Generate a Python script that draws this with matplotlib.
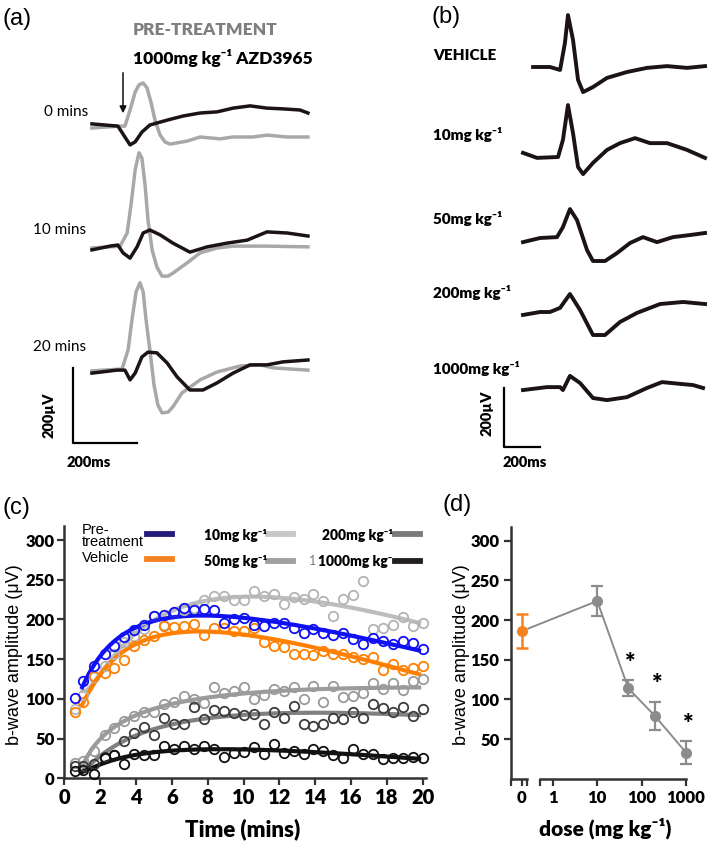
import numpy as np
import matplotlib.pyplot as plt
from matplotlib.lines import Line2D
from matplotlib.patches import ConnectionPatch

# ---------------- data ----------------
# (a) ERG traces, time in ms after flash, amplitude in uV
a0_grey_t = [-97, -9, 6, 22, 38, 50, 63, 75, 88, 100, 116, 131, 147, 200, 241, 303, 344, 406, 450, 513, 578]
a0_grey_v = [-8, -3, -3, 40, 88, 107, 112, 99, 59, 13, -27, -45, -51, -43, -32, -37, -32, -32, -27, -32, -32]
a0_black_t = [-97, -16, 6, 22, 38, 59, 84, 138, 188, 241, 294, 344, 397, 450, 500, 553, 578]
a0_black_v = [3, -3, -32, -53, -45, -19, 0, 13, 24, 32, 35, 45, 51, 45, 43, 40, 32]
a1_grey_t = [-97, -9, 13, 25, 38, 50, 59, 69, 78, 91, 106, 122, 141, 156, 200, 241, 294, 344, 450, 578]
a1_grey_v = [0, 5, 40, 115, 208, 254, 240, 168, 75, -5, -51, -75, -75, -67, -40, -13, 0, 5, 5, 3]
a1_black_t = [-97, -41, -16, 0, 22, 44, 63, 84, 116, 156, 209, 263, 325, 388, 450, 513, 578]
a1_black_v = [-5, 5, 8, -13, -27, 3, 40, 48, 35, 13, -11, 3, 13, 21, 43, 40, 32]
a2_grey_t = [-97, -3, 16, 28, 41, 53, 63, 72, 84, 97, 109, 122, 141, 156, 184, 241, 294, 366, 428, 469, 578]
a2_grey_v = [3, 8, 59, 139, 214, 238, 214, 139, 59, -35, -88, -109, -107, -93, -56, -21, 0, 16, 19, 11, 5]
a2_black_t = [-97, -19, 6, 22, 38, 59, 78, 106, 138, 169, 209, 250, 294, 344, 397, 450, 500, 578]
a2_black_v = [-3, 5, 5, -21, -3, 40, 53, 51, 24, -13, -48, -48, -29, -3, 19, 19, 27, 32]
a_rows = ['0 mins', '10 mins', '20 mins']

# (b) traces per dose
b_labels = ['VEHICLE', '10mg kg⁻¹', '50mg kg⁻¹', '200mg kg⁻¹', '1000mg kg⁻¹']
b_veh_t = [-133, -39, 17, 44, 61, 89, 117, 145, 200, 278, 389, 500, 612, 723, 823]
b_veh_v = [0, 0, -10, 81, 176, 92, -44, -85, -68, -37, -17, -3, 3, -3, 3]
b_10_t = [-189, -111, 6, 33, 61, 89, 117, 145, 200, 278, 350, 434, 517, 612, 723, 823]
b_10_v = [14, -3, 0, 58, 176, 81, -34, -58, -20, 24, 47, 64, 47, 47, 24, -3]
b_50_t = [-189, -94, 0, 33, 72, 111, 167, 200, 267, 334, 406, 478, 556, 645, 739, 823]
b_50_v = [-14, 0, 3, 37, 98, 61, -41, -78, -78, -51, -17, 3, -14, 3, 10, 17]
b_200_t = [-189, -94, -39, 17, 72, 128, 200, 267, 350, 445, 573, 701, 823]
b_200_v = [-10, 0, 0, 14, 61, 7, -78, -78, -34, -3, 27, 34, 27]
b_1000_t = [-189, -56, 17, 33, 72, 128, 200, 278, 389, 500, 584, 684, 756, 812]
b_1000_v = [-7, 3, 3, -7, 41, 17, -34, -41, -31, 0, 20, 14, 10, 0]

# (c) b-wave amplitude over time
time_min = [0.58, 1.06, 1.67, 2.25, 2.8, 3.33, 3.9, 4.45, 5.0, 5.56, 6.12, 6.68, 7.26, 7.8, 8.35, 8.9, 9.47, 10.0,
            10.57, 11.13, 11.68, 12.24, 12.8, 13.36, 13.9, 14.46, 15.0, 15.57, 16.13, 16.69, 17.23, 17.79, 18.33,
            18.88, 19.44, 20.0]
pre_treat = [101, 122, 141, 156, 166, 178, 187, 193, 204, 206, 210, 214, 212, 213, 212, 196, 201, 202, 193, 192, 196,
             196, 189, 183, 188, 183, 180, 183, 175, 169, 177, 173, 169, 173, 171, 163]
vehicle = [83, 96, 129, 132, 139, 149, 167, 174, 179, 192, 191, 192, 194, 180, 189, 189, 185, 186, 189, 172, 167, 165,
           157, 156, 155, 160, 157, 156, 153, 150, 153, 136, 144, 136, 139, 142]
dose10 = [87, 105, 128, 141, 157, 172, 179, 188, 204, 193, 210, 212, 215, 225, 229, 230, 224, 224, 236, 230, 232, 220,
          228, 226, 232, 223, 205, 226, 231, 248, 188, 189, 193, 203, 192, 196]
dose50 = [19, 22, 34, 55, 63, 72, 79, 83, 83, 93, 96, 104, 100, 95, 115, 108, 110, 115, 100, 105, 113, 110, 115, 100,
          116, 96, 116, 102, 104, 108, 120, 113, 120, 111, 123, 125]
dose200 = [15, 15, 18, 27, 29, 47, 57, 65, 54, 76, 69, 69, 90, 75, 86, 85, 82, 80, 81, 69, 83, 76, 91, 68, 66, 69, 76,
           75, 84, 76, 93, 89, 83, 90, 79, 87]
dose1000 = [9, 11, 6, 25, 29, 18, 31, 29, 29, 41, 37, 41, 37, 41, 37, 27, 32, 33, 39, 31, 43, 32, 34, 31, 37, 34, 29,
            26, 37, 31, 30, 24, 25, 26, 27, 25]

# (d) dose response
veh_mean, veh_err = 186, 21
doses = [10, 50, 200, 1000]
dose_mean = [224, 114, 79, 33]
dose_err = [19, 10, 18, 14]
signif = [False, True, True, True]

# ---------------- figure ----------------
CAL = ['Lato', 'DejaVu Sans']
ARI = ['Liberation Sans', 'DejaVu Sans']
BOLD = 800
plt.rcParams['font.family'] = CAL
plt.rcParams['font.weight'] = BOLD
plt.rcParams['axes.linewidth'] = 1.8
plt.rcParams['axes.edgecolor'] = '#333333'

W, H = 709, 844
fig = plt.figure(figsize=(W / 100, H / 100), dpi=100)


def fx(x):
    return x / W


def fy(y):
    return 1 - y / H


def ftext(x, y, s, **kw):
    kw.setdefault('family', CAL)
    kw.setdefault('weight', BOLD)
    fig.text(fx(x), fy(y), s, **kw)


# ---- panel (a) ----
ms_a, uv_a = 3.125, 2.667
ax_a = fig.add_axes([0, fy(470), fx(354), 470 / H])
ax_a.set_xlim(-123 * ms_a, (354 - 123) * ms_a)
ax_a.set_ylim(-470 * uv_a, 0)
ax_a.axis('off')
base_a = [-125 * uv_a, -248 * uv_a, -372 * uv_a]
grey_a = [(a0_grey_t, a0_grey_v), (a1_grey_t, a1_grey_v), (a2_grey_t, a2_grey_v)]
black_a = [(a0_black_t, a0_black_v), (a1_black_t, a1_black_v), (a2_black_t, a2_black_v)]
for b, (gt, gv), (kt, kv) in zip(base_a, grey_a, black_a):
    ax_a.plot(gt, np.array(gv) + b, color='#a8a8a8', lw=2.5, solid_joinstyle='round')
    ax_a.plot(kt, np.array(kv) + b, color='#1c1414', lw=2.5, solid_joinstyle='round')
ax_a.annotate('', xy=(0, -116 * uv_a), xytext=(0, -70 * uv_a),
              arrowprops=dict(arrowstyle='-|>', color='#111111', lw=1.1, mutation_scale=10))
# scale bar
sx, sy = -50 * ms_a, -443 * uv_a
ax_a.plot([sx, sx, sx + 200], [sy + 200, sy, sy], color='black', lw=1.6)
ftext(2, 19, '(a)', fontsize=17, family=ARI, weight='normal', va='center')
ftext(133, 30, 'PRE-TREATMENT', fontsize=12.5, color='#7f7f7f', va='center')
ftext(133, 58, '1000mg kg⁻¹ AZD3965', fontsize=12.5, va='center')
for lab, yy, xr in zip(a_rows, [112, 230, 347], [88, 86, 86]):
    ftext(xr, yy, lab, fontsize=11, weight='normal', ha='right', va='center')
ftext(49, 415, '200µV', fontsize=10.5, rotation=90, ha='center', va='center')
ftext(89, 462, '200ms', fontsize=10.5, ha='center', va='center')

# ---- panel (b) ----
ms_b, uv_b = 5.56, 3.39
ax_b = fig.add_axes([fx(500), fy(470), fx(209), 470 / H])
ax_b.set_xlim((500 - 557) * ms_b, (709 - 557) * ms_b)
ax_b.set_ylim(-470 * uv_b, 0)
ax_b.axis('off')
base_b = [67, 157, 238, 312, 388]
traces_b = [(b_veh_t, b_veh_v), (b_10_t, b_10_v), (b_50_t, b_50_v), (b_200_t, b_200_v), (b_1000_t, b_1000_v)]
lab_y_b = [55, 135, 218, 292, 368]
for b, (tt, vv), lab, ly in zip(base_b, traces_b, b_labels, lab_y_b):
    ax_b.plot(tt, np.array(vv) - b * uv_b, color='#1c1414', lw=2.8, solid_joinstyle='round')
    ftext(433, ly, lab, fontsize=11, va='center')
sx, sy = (504 - 557) * ms_b, -447 * uv_b
ax_b.plot([sx, sx, sx + 200], [sy + 200, sy, sy], color='black', lw=1.6)
ftext(431, 17, '(b)', fontsize=17, family=ARI, weight='normal', va='center')
ftext(487, 413, '200µV', fontsize=10.5, rotation=90, ha='center', va='center')
ftext(525, 462, '200ms', fontsize=10.5, ha='center', va='center')

# ---- panel (c) ----
axc = fig.add_axes([fx(64.3), fy(778.3), 17.92 * 20.2 / W, 318 * 0.794 / H])
axc.set_xlim(0, 20.2)
axc.set_ylim(0, 318)
series = [
    (dose10, '#b4b4b4', '#bdbdbd'),
    (dose50, '#9a9a9a', '#9c9c9c'),
    (dose200, '#3c3c3c', '#808080'),
    (dose1000, '#111111', '#111111'),
    (vehicle, '#ff8000', '#ff8000'),
    (pre_treat, '#1010f5', '#1010f5'),
]
tm = np.array(time_min)
tt = np.linspace(1.0, 19.8, 200)
for vals, mcol, lcol in series:
    vals = np.array(vals, dtype=float)
    m = tm >= 1
    coef = np.polyfit(np.log(tm[m]), vals[m], 3)
    axc.plot(tt, np.polyval(coef, np.log(tt)), color=lcol, lw=3.0, zorder=2)
    axc.plot(tm, vals, 'o', mfc='none', mec=mcol, ms=6.8, mew=1.3, zorder=3, clip_on=False)
for s in ['top', 'right']:
    axc.spines[s].set_visible(False)
axc.set_xticks(range(0, 21, 2))
axc.set_yticks(range(0, 301, 50))
axc.tick_params(length=5, width=1.6, color='#333333', pad=2)
axc.tick_params(axis='x', labelsize=14.5)
axc.tick_params(axis='y', labelsize=12)
ftext(2, 508, '(c)', fontsize=17, family=ARI, weight='normal', va='center')
ftext(15, 655, 'b-wave amplitude (μV)', fontsize=13, family=ARI, weight='normal', rotation=90,
      ha='center', va='center')
ftext(243, 829, 'Time (mins)', fontsize=16, ha='center', va='center')

# legend (text left, swatch right)
leg = [
    ('Pre-\ntreatment', 82, 536, 147, 534, '#241c78', ARI, 'normal', 10.5),
    ('Vehicle', 82, 558, 147, 559, '#f58220', ARI, 'normal', 10.5),
    ('10mg kg⁻¹', 204, 535, 268, 534, '#c8c8c8', CAL, BOLD, 10),
    ('50mg kg⁻¹', 204, 561, 268, 561, '#a0a0a0', CAL, BOLD, 10),
    ('200mg kg⁻¹', 322, 535, 395, 534, '#7a7a7a', CAL, BOLD, 10),
    ('1000mg kg⁻', 318, 561, 395, 561, '#231f20', CAL, BOLD, 10),
]
for txt, tx, ty, hx, hy, col, fam, wt, fs in leg:
    fig.text(fx(tx), fy(ty), txt, family=fam, weight=wt, fontsize=fs, va='center', ha='left',
             linespacing=0.85)
    fig.add_artist(Line2D([fx(hx), fx(hx + 25)], [fy(hy), fy(hy)], color=col, lw=4.2,
                          transform=fig.transFigure))
ftext(309, 561, '1', fontsize=9, weight='normal', color='#777777', va='center')

# ---- panel (d) ----
d_bottom, d_h = fy(778.7), 317.7 * 0.7933 / H
axd0 = fig.add_axes([fx(510.7), d_bottom, fx(16), d_h])
axd1 = fig.add_axes([fx(540), d_bottom, fx(146), d_h])
for ax in (axd0, axd1):
    ax.set_ylim(0, 317.7)
    ax.patch.set_visible(False)
    for s in ['top', 'right']:
        ax.spines[s].set_visible(False)
axd0.set_xlim(-0.69, 0.31)
axd0.set_xticks([-0.69, 0, 0.31], labels=['', '0', ''])
axd0.set_yticks(range(50, 301, 50))
axd1.set_xscale('log')
axd1.set_xlim(10 ** -0.29, 1000)
axd1.spines['left'].set_visible(False)
axd1.set_yticks([])
axd1.set_xticks([10 ** -0.29, 1, 10, 100, 1000], labels=['', '1', '10', '100', '1000'])
axd1.minorticks_off()
for ax in (axd0, axd1):
    ax.tick_params(length=5, width=1.6, color='#333333', pad=3, labelsize=12)

grey_d = '#8c8c8c'
axd0.errorbar([0], [veh_mean], yerr=[veh_err], fmt='o', color='#f58220', ms=7, capsize=4,
              elinewidth=1.8, capthick=1.8, clip_on=False, zorder=4)
axd1.plot(doses, dose_mean, color=grey_d, lw=1.4, clip_on=False, zorder=2)
axd1.errorbar(doses, dose_mean, yerr=dose_err, fmt='o', color=grey_d, ms=7, capsize=4,
              elinewidth=1.6, capthick=1.6, clip_on=False, zorder=4)
con = ConnectionPatch(xyA=(0, veh_mean), coordsA=axd0.transData, xyB=(doses[0], dose_mean[0]),
                      coordsB=axd1.transData, color=grey_d, lw=1.4, shrinkA=5, shrinkB=0)
fig.add_artist(con)
for d, mu, e, sg in zip(doses, dose_mean, dose_err, signif):
    if sg:
        axd1.text(d * 1.12, mu + e + 22, '*', fontsize=18, ha='center', va='center')
ftext(443, 505, '(d)', fontsize=17, family=ARI, weight='normal', va='center')
ftext(461, 655, 'b-wave amplitude (μV)', fontsize=13, family=ARI, weight='normal', rotation=90,
      ha='center', va='center')
ftext(605, 828, 'dose (mg kg⁻¹)', fontsize=15, ha='center', va='center')

fig.savefig('out.png', dpi=100)
